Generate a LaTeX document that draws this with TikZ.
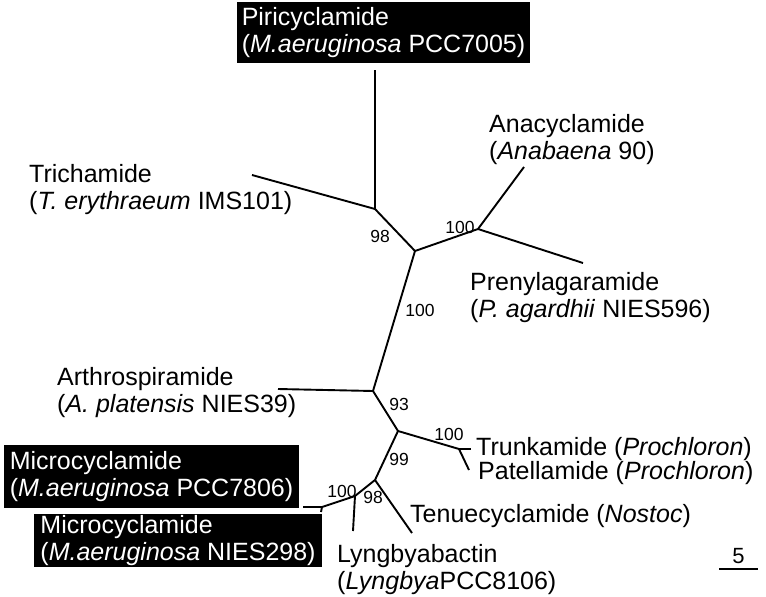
\documentclass[tikz,border=0pt]{standalone}
\usepackage{fontspec}
\setmainfont{Liberation Sans}
\usepackage{tikz}
\usetikzlibrary{positioning}
\tikzset{
	boot/.style = {
		font=\fontsize{17.5}{19}\selectfont, inner sep=0pt
	}
}

\begin{document}
\begin{tikzpicture}[
		x=1pt, y=-1pt,
        taxon/.style = {font=\fontsize{25}{27}\selectfont, align=left, inner sep=0pt, anchor=west},
        hilite/.style = {taxon, fill=black, text=white, inner xsep=6pt, inner ysep=5pt, anchor=center},
        branch/.style = {line width=1.9pt}
    ]
    %\draw[step=50,gray,very thin] (0,0) grid (766,597);
    \useasboundingbox (0,0) rectangle (766,597);

    % inner nodes
    \coordinate (n1) at (375,209);
    \coordinate (n2) at (415,251);
    \coordinate (n3) at (478,229);
    \coordinate (n4) at (373,391);
    \coordinate (n5) at (398,431);
    \coordinate (n6) at (459,449);
    \coordinate (n7) at (375,480);
    \coordinate (n8) at (355,496);
    \coordinate (n9) at (322,507);

    % leaves
    \coordinate (pir) at (375,70);
    \coordinate (tri) at (252,175);
    \coordinate (ana) at (524,167);
    \coordinate (pre) at (583,263);
    \coordinate (art) at (278,389);
    \coordinate (trk) at (471,449);
    \coordinate (pat) at (469,470);
    \coordinate (ten) at (412,533);
    \coordinate (lyn) at (353,531);
    \coordinate (m7806) at (303,507);
    \coordinate (m298) at (321,512);

    \draw[branch] (n1) -- (pir);
    \draw[branch] (n1) -- (tri);
    \draw[branch] (n1) -- (n2);
    \draw[branch] (n2) -- (n3);
    \draw[branch] (n3) -- (ana);
    \draw[branch] (n3) -- (pre);
    \draw[branch] (n2) -- (n4);
    \draw[branch] (n4) -- (art);
    \draw[branch] (n4) -- (n5);
    \draw[branch] (n5) -- (n6);
    \draw[branch] (n6) -- (trk);
    \draw[branch] (n6) -- (pat);
    \draw[branch] (n5) -- (n7);
    \draw[branch] (n7) -- (ten);
    \draw[branch] (n7) -- (n8);
    \draw[branch] (n8) -- (lyn);
    \draw[branch] (n8) -- (n9);
    \draw[branch] (n9) -- (m7806);
    \draw[branch] (n9) -- (m298);

    \node[hilite, inner xsep=5pt] (piri) at (383.5,32.5) {Piricyclamide\\(\textit{M.aeruginosa} PCC7005)};
    \node[taxon] (tricha) at (29,190) {Trichamide\\(\textit{T. erythraeum} IMS101)};
    \node[taxon] (anacy) at (489,140) {Anacyclamide\\(\textit{Anabaena} 90)};
    \node[taxon] (preny) at (470,298) {Prenylagaramide\\(\textit{P. agardhii} NIES596)};
    \node[taxon] (arthro) at (57,393) {Arthrospiramide\\(\textit{A. platensis} NIES39)};
    \node[taxon, right = 5pt of trk] (trunk) {Trunkamide (\textit{Prochloron})};
    \node[taxon] (patel) at (478,473.5) {Patellamide (\textit{Prochloron})};
    \node[taxon] (tenue) at (410,516.5) {Tenuecyclamide (\textit{Nostoc})};
    \node[taxon] (lyngb) at (337,570) {Lyngbyabactin\\(\textit{Lyngbya}PCC8106)};
    \node[hilite, inner ysep=6pt] (micro1) at (151.5,476.5) {Microcyclamide\\(\textit{M.aeruginosa} PCC7806)};
    \node[hilite, inner ysep=1pt] (micro2) at (178,540.5) {Microcyclamide\\(\textit{M.aeruginosa} NIES298)};

    % bootstrap values
    \node[boot] (b1) at (380,236) {98};
    \node[boot] (b2) at (460,227) {100};
    \node[boot] (b3) at (420,310) {100};
    \node[boot] (b4) at (399,404) {93};
    \node[boot] (b5) at (449,434) {100};
    \node[boot] (b6) at (399,459) {99};
    \node[boot] (b7) at (342,491) {100};
    \node[boot] (b8) at (373,497) {98};

    % scale bar
    \coordinate (sbl) at (719,569);
    \coordinate (sbr) at (758,569);
    \coordinate (sbm) at (738.5,569);
    \draw[line width=2pt] (sbl) -- (sbr);
    \node[font=\fontsize{22}{24}\selectfont, inner sep=0pt, above = 5pt of sbm] (scale) {5};

\end{tikzpicture}
\end{document}
